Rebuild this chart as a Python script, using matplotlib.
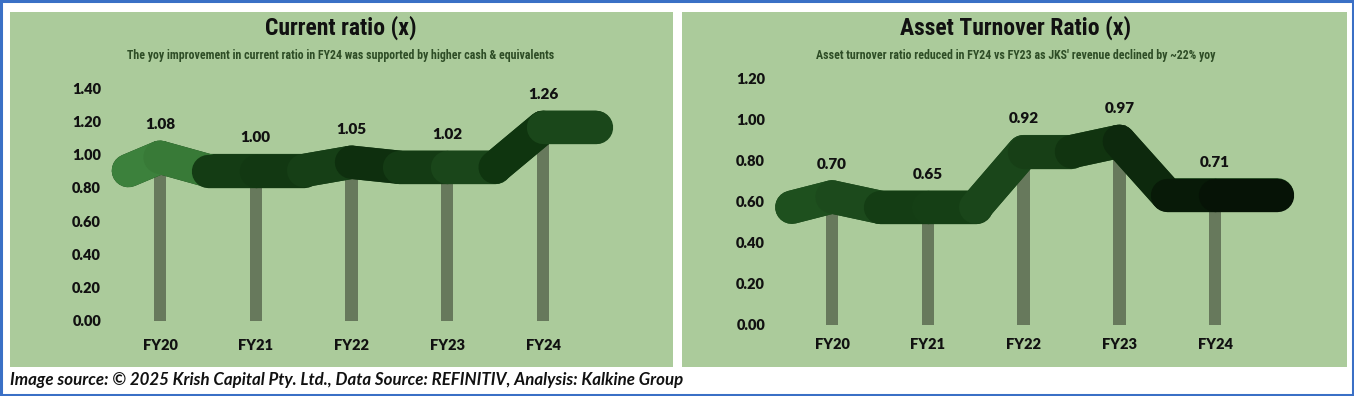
import numpy as np
import matplotlib
matplotlib.use("Agg")
import matplotlib.pyplot as plt
from matplotlib.collections import LineCollection
from matplotlib.transforms import ScaledTranslation
from matplotlib.patches import Rectangle

# ---------------- data ----------------
categories = ["FY20", "FY21", "FY22", "FY23", "FY24"]
current_ratio = [1.08, 1.00, 1.05, 1.02, 1.26]
asset_turnover = [0.70, 0.65, 0.92, 0.97, 0.71]
cr_ticks = [0.00, 0.20, 0.40, 0.60, 0.80, 1.00, 1.20, 1.40]
at_ticks = [0.00, 0.20, 0.40, 0.60, 0.80, 1.00, 1.20]
titles = ["Current ratio (x)", "Asset Turnover Ratio (x)"]
subtitles = [
    "The yoy improvement in current ratio in FY24 was supported by higher cash & equivalents",
    "Asset turnover ratio reduced in FY24 vs FY23 as JKS' revenue declined by ~22% yoy",
]
footer = "Image source: \u00a9 2025 Krish Capital Pty. Ltd., Data Source: REFINITIV, Analysis: Kalkine Group"

# ---------------- style ----------------
W, H, DPI = 1354, 396, 100
BG = "#abcb9b"
BAR = "#67795c"
TITLE_FONT = ["Liberation Sans Narrow", "Roboto Condensed", "DejaVu Sans"]
BODY_FONT = "Lato"
BODY_WEIGHT = "heavy"
left_colors = ["#3c813c", "#387a37", "#143c14", "#123812", "#163f16",
               "#0e2f0e", "#143b14", "#1a461a", "#0f350f", "#1a471a"]
right_colors = ["#1e501e", "#1c4a1c", "#143d14", "#153f15", "#1a461a",
                "#173f16", "#113410", "#0d290d", "#081a08", "#061306"]

fig = plt.figure(figsize=(W / DPI, H / DPI), dpi=DPI)
fig.patch.set_facecolor("white")


def px(x, y, w, h):
    return [x / W, (H - y - h) / H, w / W, h / H]


# panel backgrounds
for (x0, x1) in [(10, 673), (682, 1347)]:
    fig.patches.append(Rectangle((x0 / W, (H - 367) / H), (x1 - x0) / W, (367 - 12) / H,
                                 transform=fig.transFigure, facecolor=BG, edgecolor="none",
                                 zorder=-5))
# outer blue frame
fig.patches.append(Rectangle((0.001, 0.002), 0.998, 0.995, transform=fig.transFigure,
                             facecolor="none", edgecolor="#3a70c6", linewidth=2.2, zorder=5))


def ribbon_xy(vals, left_ext, right_ext):
    n = len(vals)
    xs = [0 - left_ext]
    ys = [min(vals[0], vals[1])]
    for i in range(n):
        xs.append(i)
        ys.append(vals[i])
        if i < n - 1:
            xs.append(i + 0.5)
            ys.append(min(vals[i], vals[i + 1]))
    xs.append(n - 1 + right_ext)
    ys.append(vals[-1])
    return np.array(xs), np.array(ys)


def draw_panel(rect, xlim, vals, ticks, ylim, title, subtitle, cx, colors, ext, xpad):
    ax = fig.add_axes(px(*rect))
    ax.set_facecolor("none")
    ax.set_zorder(1)
    x = np.arange(len(categories))
    ax.bar(x, vals, width=0.13, color=BAR, zorder=1)
    # thick 3D-like ribbon drawn from the series values
    xs, ys = ribbon_xy(vals, *ext)
    trans = ax.transData + ScaledTranslation(0, -0.16, fig.dpi_scale_trans)
    ax.plot(xs, ys, color=colors[4], lw=24, solid_capstyle="round",
            solid_joinstyle="round", transform=trans, zorder=2)
    pts = np.column_stack([xs, ys])
    segs = [pts[i:i + 2] for i in range(len(pts) - 1)]
    lc = LineCollection(segs, colors=colors, linewidths=24, capstyle="round",
                        joinstyle="round", transform=trans, zorder=3)
    ax.add_collection(lc)
    for i, v in enumerate(vals):
        ax.annotate(f"{v:.2f}", (i, v), xytext=(0, 12), textcoords="offset points",
                    ha="center", va="center", fontsize=11, fontweight=BODY_WEIGHT,
                    family=BODY_FONT, color="#111111", zorder=4, annotation_clip=False)
    ax.set_xlim(*xlim)
    ax.set_ylim(*ylim)
    ax.set_yticks(ticks)
    ax.set_yticklabels([f"{t:.2f}" for t in ticks], fontsize=10.5, fontweight=BODY_WEIGHT,
                       family=BODY_FONT, color="#111111")
    ax.set_xticks(x)
    ax.set_xticklabels(categories, fontsize=10.5, fontweight=BODY_WEIGHT, family=BODY_FONT,
                       color="#111111")
    ax.tick_params(axis="y", length=0, pad=5)
    ax.tick_params(axis="x", length=0, pad=xpad)
    for s in ax.spines.values():
        s.set_visible(False)
    fig.text(cx / W, (H - 28) / H, title, ha="center", va="center", fontsize=17,
             fontweight="bold", family=TITLE_FONT, stretch="condensed", color="#111111")
    fig.text(cx / W, (H - 55) / H, subtitle, ha="center", va="center", fontsize=8.6,
             fontweight="bold", family=TITLE_FONT, stretch="condensed", color="#2e4d26")
    return ax


# rect = (left px, top px, width px, height px)
draw_panel((108, 88, 532, 233), (-0.543, 5.013), current_ratio, cr_ticks, (0, 1.4),
           titles[0], subtitles[0], 341, left_colors, (0.33, 0.55), 13)
draw_panel((772, 78, 548, 247), (-0.627, 5.096), asset_turnover, at_ticks, (0, 1.2),
           titles[1], subtitles[1], 1016, right_colors, (0.42, 0.65), 9.5)

fig.text(10 / W, (H - 380) / H, footer, ha="left", va="center", fontsize=12.2,
         fontweight="bold", fontstyle="italic", family=BODY_FONT, color="#111111")

fig.savefig("out.png", dpi=DPI, facecolor="white")
